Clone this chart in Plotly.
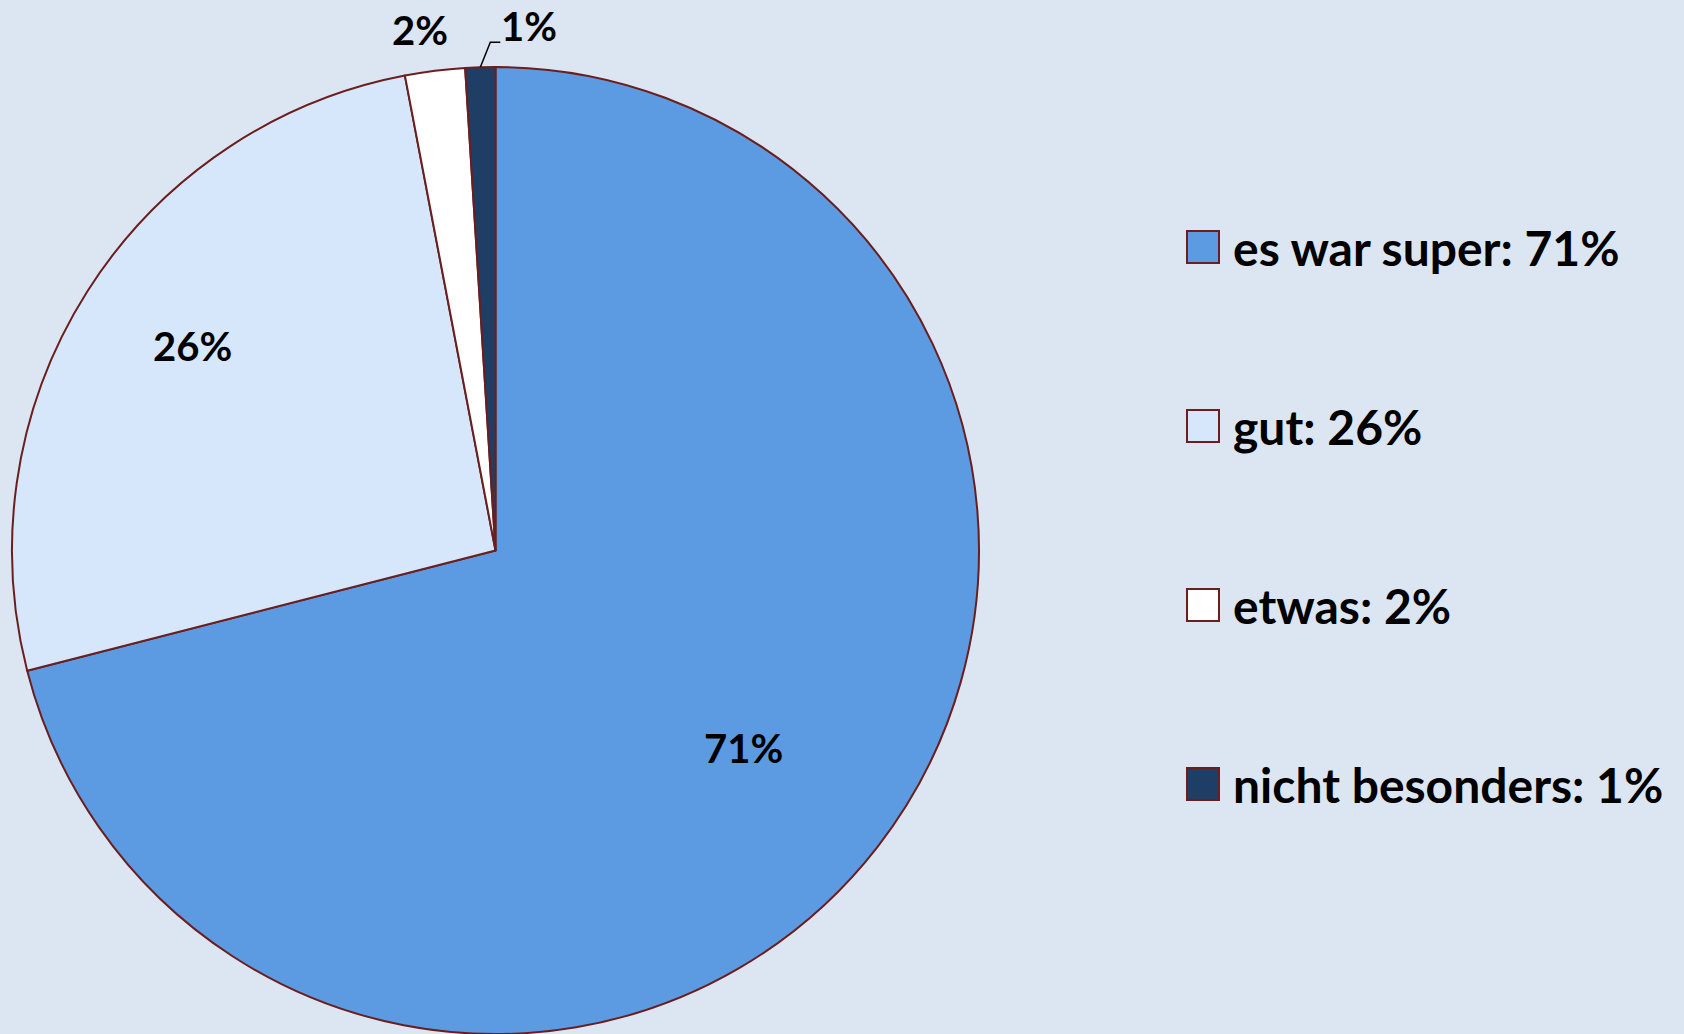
import math
import plotly.graph_objects as go

# ---- data ----
labels = ["es war super", "gut", "etwas", "nicht besonders"]
values = [71, 26, 2, 1]
colors = ["#5C9BE2", "#D6E6FB", "#FFFFFF", "#1F3E66"]

# ---- layout constants ----
W, H = 1684, 1034
BG = "#DCE6F2"
EDGE = "#6B1E1E"
LEG_FONT = dict(family="Lato, Open Sans, sans-serif", size=48, color="#000000", weight="bold")
LBL_FONT = dict(family="Lato, Open Sans, sans-serif", size=40, color="#000000", weight="bold")

cx, cy, R = 495.5, 550.5, 483.5  # pie centre / radius in pixels


def px(x):
    return min(max(x / W, 0.0), 1.0)


def py(y):
    return min(max(1 - y / H, 0.0), 1.0)


fig = go.Figure()
fig.add_trace(go.Pie(
    labels=labels, values=values, sort=False, direction="clockwise", rotation=0,
    marker=dict(colors=colors, line=dict(color=EDGE, width=2)),
    textinfo="none", showlegend=False, hoverinfo="label+percent",
    domain=dict(x=[px(cx - R), px(cx + R)], y=[py(cy + R), py(cy - R)]),
))

annotations = []
shapes = []
total = sum(values)
label_r = [0.654, 0.755, 1.085, None]   # radial position of each slice label (fraction of R)
label_dx = [-2, 5, -10, 0]              # small nudges in pixels
label_dy = [4, -9, 0, 0]
cum = 0
for i, v in enumerate(values):
    mid = (cum + v / 2) / total * 2 * math.pi
    cum += v
    s, c = math.sin(mid), math.cos(mid)
    txt = f"{v}%"
    if label_r[i] is not None:
        x = cx + label_r[i] * R * s + label_dx[i]
        y = cy - label_r[i] * R * c + label_dy[i]
        annotations.append(dict(x=px(x), y=py(y), xref="paper", yref="paper", text=txt,
                                showarrow=False, xanchor="center", yanchor="middle", font=LBL_FONT))
    else:
        ax, ay = cx + R * s, cy - R * c
        path = f"M {px(ax)} {py(ay)} L {px(ax + 10)} {py(ay - 25)} L {px(ax + 20)} {py(ay - 25)}"
        shapes.append(dict(type="path", path=path, xref="paper", yref="paper",
                           line=dict(color="#000000", width=1.5)))
        annotations.append(dict(x=px(ax + 19), y=py(ay - 41), xref="paper", yref="paper", text=txt,
                                showarrow=False, xanchor="left", yanchor="middle", font=LBL_FONT))

# ---- manual legend ----
leg_x, leg_y0, leg_dy, sq = 1187, 247, 179, 32
for i, (lab, v) in enumerate(zip(labels, values)):
    yc = leg_y0 + i * leg_dy
    shapes.append(dict(type="rect", xref="paper", yref="paper",
                       x0=px(leg_x), x1=px(leg_x + sq), y0=py(yc + sq / 2), y1=py(yc - sq / 2),
                       fillcolor=colors[i], line=dict(color=EDGE, width=2)))
    annotations.append(dict(x=px(leg_x + sq + 12), y=py(yc), xref="paper", yref="paper",
                            text=f"{lab}: {v}%", showarrow=False, xanchor="left", yanchor="middle",
                            font=LEG_FONT))

fig.update_layout(
    width=W, height=H, autosize=False,
    margin=dict(l=0, r=0, t=0, b=0),
    paper_bgcolor=BG, plot_bgcolor=BG,
    annotations=annotations, shapes=shapes,
    showlegend=False,
)

fig.write_html(
    "out.html",
    config={"displayModeBar": False},
    post_script="document.body.style.margin='0';document.body.style.overflow='hidden';"
                "document.body.style.background='" + BG + "';",
)
